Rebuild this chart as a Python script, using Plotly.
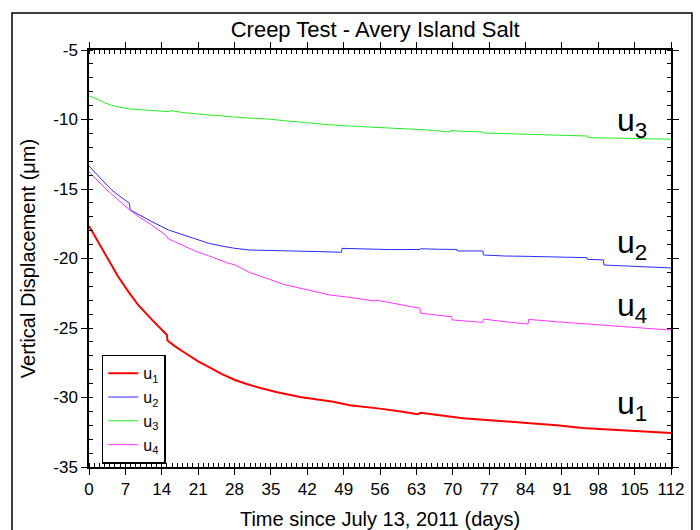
import plotly.graph_objects as go

# ---- data ----
u1_days = [0, 1, 2, 3.1, 4.3, 5.6, 7.6, 9.5, 12.1, 15.0, 15.1, 16.5, 18.5, 21, 23, 25.5, 28.1, 30.5,
           33.2, 36, 40.6, 44, 47, 50.2, 53, 56, 60, 63.3, 63.8, 66, 69.5, 72, 75.8, 80, 84.9, 90,
           95, 100, 105, 112]
u1_vals = [-17.66, -18.3, -18.95, -19.63, -20.45, -21.3, -22.4, -23.35, -24.4, -25.5, -25.9, -26.3,
           -26.8, -27.4, -27.8, -28.3, -28.74, -29.05, -29.34, -29.6, -29.96, -30.15, -30.3, -30.55,
           -30.65, -30.8, -31.0, -31.2, -31.1, -31.2, -31.4, -31.5, -31.6, -31.7, -31.85, -32.0,
           -32.2, -32.3, -32.4, -32.55]

u2_days = [0, 1, 2, 3.1, 4.3, 5.6, 6.7, 7.8, 7.9, 10, 12.1, 15.3, 16.5, 18.5, 21, 23, 25.5, 28.1,
           31, 35, 40, 44, 48.6, 48.7, 52, 54.7, 58, 63.7, 63.8, 67, 70.8, 70.9, 75.8, 75.9, 80, 85,
           90, 95.8, 95.9, 99, 99.1, 105.4, 112]
u2_vals = [-13.35, -13.75, -14.2, -14.6, -15.05, -15.43, -15.75, -16.03, -16.5, -16.95, -17.35,
           -17.95, -18.1, -18.38, -18.7, -18.9, -19.1, -19.27, -19.39, -19.44, -19.46, -19.5, -19.55,
           -19.27, -19.3, -19.34, -19.36, -19.35, -19.3, -19.33, -19.35, -19.46, -19.46, -19.75,
           -19.82, -19.85, -19.9, -19.94, -20.06, -20.1, -20.47, -20.59, -20.68]

u3_days = [0, 1, 2, 3, 4, 5, 5.7, 7.9, 10, 12, 15.5, 15.6, 18, 21.4, 25, 28, 31, 34.2, 38, 42, 47,
           50.2, 55, 60, 65, 69.5, 69.6, 72, 75.8, 75.9, 80, 85, 90, 96, 96.1, 100, 105, 112]
u3_vals = [-8.31, -8.45, -8.6, -8.8, -8.95, -9.05, -9.1, -9.24, -9.3, -9.35, -9.44, -9.35, -9.5,
           -9.62, -9.75, -9.82, -9.9, -9.96, -10.1, -10.25, -10.4, -10.47, -10.55, -10.65, -10.75,
           -10.9, -10.8, -10.85, -10.9, -10.97, -11.02, -11.08, -11.13, -11.19, -11.3, -11.33,
           -11.37, -11.42]

u4_days = [0, 1, 2, 3.1, 4.3, 5.6, 7.8, 10, 12.1, 15, 15.1, 16.5, 18.5, 21, 23, 26.5, 28.1, 31, 34,
           37.4, 42, 46.4, 50.2, 55, 55.1, 60, 63.7, 63.8, 67, 69.8, 69.9, 72.5, 75.8, 75.9, 80,
           84.5, 84.6, 90, 95, 99, 105, 112]
u4_vals = [-13.75, -14.15, -14.55, -14.95, -15.35, -15.8, -16.5, -17.1, -17.6, -18.4, -18.55, -18.8,
           -19.15, -19.55, -19.8, -20.3, -20.47, -21.02, -21.4, -21.86, -22.25, -22.63, -22.8,
           -23.06, -22.98, -23.35, -23.58, -23.94, -24.05, -24.19, -24.42, -24.5, -24.6, -24.35,
           -24.55, -24.71, -24.38, -24.55, -24.68, -24.78, -24.95, -25.15]

series_names = ["u<sub>1</sub>", "u<sub>2</sub>", "u<sub>3</sub>", "u<sub>4</sub>"]
x_ticks = list(range(0, 113, 7))
y_ticks = [-35, -30, -25, -20, -15, -10, -5]
y_tick_text = ["-35", "-30", "-25", "-20", "-15", "-10", "-5"]

FONT = "Liberation Sans, Arial, sans-serif"

fig = go.Figure()
styles = [("#FF0000", 2.0), ("#2A2AFF", 1.0), ("#22EE22", 1.0), ("#FF33FF", 1.0)]
for (d, v), name, (c, w) in zip(
        [(u1_days, u1_vals), (u2_days, u2_vals), (u3_days, u3_vals), (u4_days, u4_vals)],
        series_names, styles):
    fig.add_trace(go.Scatter(x=d, y=v, mode="lines", name=name,
                             line=dict(color=c, width=w)))

axis_common = dict(
    showline=True, linecolor="black", linewidth=1.5, mirror="ticks",
    showgrid=False, zeroline=False, automargin=False,
    ticks="outside", ticklen=6, tickwidth=1.2, tickcolor="black",
    tickfont=dict(family=FONT, size=17, color="black"),
)

fig.update_xaxes(range=[0, 112], tickvals=x_ticks,
                 minor=dict(dtick=1, ticks="inside", ticklen=4, tickwidth=1, tickcolor="black"),
                 title=dict(text="Time since July 13, 2011 (days)",
                            font=dict(family=FONT, size=20, color="black"), standoff=15),
                 **axis_common)
fig.update_yaxes(range=[-35, -5], tickvals=y_ticks, ticktext=y_tick_text,
                 minor=dict(dtick=1, ticks="inside", ticklen=4, tickwidth=1, tickcolor="black"),
                 title=dict(text="Vertical Displacement (μm)",
                            font=dict(family=FONT, size=20, color="black"), standoff=12),
                 **axis_common)

labels = [("u<sub style='font-size:14px'>3</sub>", -10.18),
          ("u<sub style='font-size:14px'>2</sub>", -18.96),
          ("u<sub style='font-size:14px'>4</sub>", -23.52),
          ("u<sub style='font-size:14px'>1</sub>", -30.6)]
for txt, yv in labels:
    fig.add_annotation(x=101.3, y=yv, xref="x", yref="y", text=txt, showarrow=False,
                       xanchor="left", yanchor="middle",
                       font=dict(family=FONT, size=32, color="black"))

fig.add_shape(type="rect", xref="paper", yref="paper",
              x0=-0.1323, x1=1.036, y0=-0.35, y1=1.0887,
              line=dict(color="black", width=1.5), layer="below")

fig.update_layout(
    template="none",
    width=700, height=530,
    margin=dict(l=89, r=29, t=50, b=63, autoexpand=False),
    paper_bgcolor="white", plot_bgcolor="white",
    title=dict(text="Creep Test - Avery Island Salt", x=0.536, xanchor="center",
               y=1 - 29 / 530, yanchor="middle",
               font=dict(family=FONT, size=22, color="black")),
    legend=dict(x=0.022, y=0.269, xanchor="left", yanchor="top",
                bgcolor="white", bordercolor="black", borderwidth=1.5,
                font=dict(family=FONT, size=16, color="black"),
                itemwidth=30, tracegroupgap=0),
    font=dict(family=FONT, color="black"),
    showlegend=True,
)

fig.write_html("out.html", config={"displayModeBar": False},
               post_script="document.body.style.margin='0';")
